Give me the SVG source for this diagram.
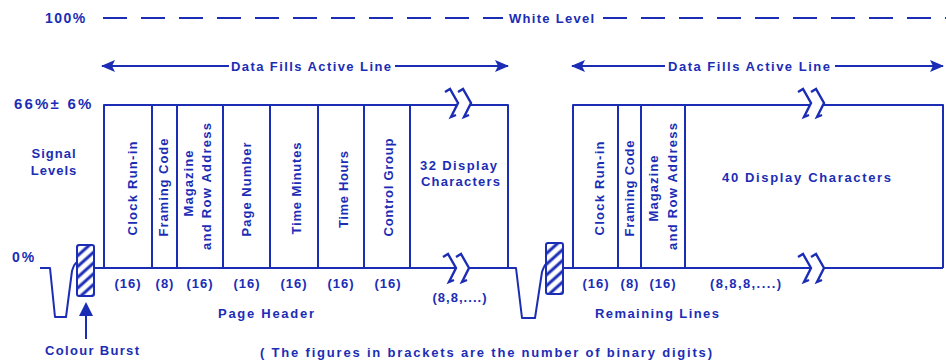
<svg xmlns="http://www.w3.org/2000/svg" width="946" height="360" viewBox="0 0 946 360">
<style>
.ln{fill:none;stroke:#1b2db5;stroke-width:2;stroke-linejoin:round}
.dash{fill:none;stroke:#1b2db5;stroke-width:2.2;stroke-dasharray:24 14}
.t{font-family:"Liberation Sans",Arial,sans-serif;font-weight:bold;font-size:13px;fill:#1b2db5;letter-spacing:1px}
.c{text-anchor:middle}
.brk{fill:none;stroke:#1b2db5;stroke-width:2.4;stroke-linejoin:miter}
</style>
<defs>
<marker id="ah" viewBox="0 0 14 12" refX="13" refY="6" markerWidth="14" markerHeight="12" markerUnits="userSpaceOnUse" orient="auto">
<path d="M0,0 L14,6 L0,12 L3,6 Z" fill="#1b2db5"/>
</marker>
<pattern id="hatch" width="8" height="8" patternUnits="userSpaceOnUse" patternTransform="rotate(48)">
<rect width="8" height="8" fill="#fff"/>
<line x1="2" y1="0" x2="2" y2="8" stroke="#1b2db5" stroke-width="3"/>
</pattern>
<path id="bk" d="M-4,3 L1,0 L9,14 L2,28 L7,26"/>
</defs>
<rect width="946" height="360" fill="#fff"/>

<!-- white level -->
<g id="white-level">
<line class="dash" x1="103" y1="18" x2="503" y2="18"/>
<line class="dash" x1="603" y1="18" x2="946" y2="18"/>
<text class="t c" x="552" y="23" textLength="86">White Level</text>
<text class="t" x="45" y="23" style="font-size:14px;letter-spacing:1.5px">100%</text>
</g>

<!-- left labels -->
<g id="levels">
<text class="t" x="14" y="109" style="font-size:15px;letter-spacing:2.2px">66%± 6%</text>
<text class="t c" x="54" y="158">Signal</text>
<text class="t c" x="54" y="175">Levels</text>
<text class="t" x="12" y="262" style="font-size:14px;letter-spacing:2px">0%</text>
</g>

<g id="connectors">
<line class="ln" x1="229" y1="66" x2="102" y2="66" marker-end="url(#ah)"/>
<line class="ln" x1="395" y1="66" x2="508" y2="66" marker-end="url(#ah)"/>
<line class="ln" x1="665" y1="66" x2="572" y2="66" marker-end="url(#ah)"/>
<line class="ln" x1="835" y1="66" x2="943" y2="66" marker-end="url(#ah)"/>
<path d="M86,302 L93,316 L79,316 Z" fill="#1b2db5"/>
<line class="ln" x1="86" y1="315" x2="86" y2="339"/>
</g>
<text class="t" x="231" y="71" textLength="161">Data Fills Active Line</text>
<text class="t" x="668" y="71" textLength="163">Data Fills Active Line</text>

<!-- waveform and colour bursts -->
<g id="sync-left">
<path class="ln" d="M40,268 L50,268 L55,317 L66,317 L72,271 Q74,264 77,262"/>
<rect x="77" y="245" width="17" height="51" rx="2" fill="url(#hatch)" stroke="#1b2db5" stroke-width="2"/>
<line class="ln" x1="94" y1="268" x2="104" y2="268"/>
</g>
<g id="sync-right">
<path class="ln" d="M508,268 L516,268 L522,318 L535,318 L542,272 Q544,266 546,264"/>
<rect x="546" y="243" width="17" height="51" rx="2" fill="url(#hatch)" stroke="#1b2db5" stroke-width="2"/>
<line class="ln" x1="563" y1="268" x2="573" y2="268"/>
</g>
<text class="t" x="45" y="355" textLength="95">Colour Burst</text>

<!-- page header line -->
<g id="page-header">
<path class="ln" d="M104,268 L104,105 L457,105 M470,105 L508,105 L508,268 M104,268 L456,268 M469,268 L508,268"/>
<use href="#bk" class="brk" x="449" y="89"/>
<use href="#bk" class="brk" x="462" y="89"/>
<use href="#bk" class="brk" x="447" y="254"/>
<use href="#bk" class="brk" x="460" y="254"/>
</g>
<g id="clock-run-in-1"><line class="ln" x1="152" y1="105" x2="152" y2="268"/>
<text class="t c" transform="translate(137,188) rotate(-90)" textLength="95">Clock Run-in</text>
<text class="t c" x="128" y="288">(16)</text></g>
<g id="framing-code-1"><line class="ln" x1="177" y1="105" x2="177" y2="268"/>
<text class="t c" transform="translate(168,187) rotate(-90)" textLength="99">Framing Code</text>
<text class="t c" x="165" y="288">(8)</text></g>
<g id="magazine-1"><line class="ln" x1="223" y1="105" x2="223" y2="268"/>
<text class="t c" transform="translate(193,183) rotate(-90)" textLength="67">Magazine</text>
<text class="t c" transform="translate(211,186) rotate(-90)" textLength="128">and Row Address</text>
<text class="t c" x="200" y="288">(16)</text></g>
<g id="page-number"><line class="ln" x1="270" y1="105" x2="270" y2="268"/>
<text class="t c" transform="translate(251,189) rotate(-90)" textLength="95">Page Number</text>
<text class="t c" x="247" y="288">(16)</text></g>
<g id="time-minutes"><line class="ln" x1="318" y1="105" x2="318" y2="268"/>
<text class="t c" transform="translate(301,188) rotate(-90)" textLength="93">Time Minutes</text>
<text class="t c" x="294" y="288">(16)</text></g>
<g id="time-hours"><line class="ln" x1="364" y1="105" x2="364" y2="268"/>
<text class="t c" transform="translate(348,189) rotate(-90)" textLength="78">Time Hours</text>
<text class="t c" x="341" y="288">(16)</text></g>
<g id="control-group"><line class="ln" x1="410" y1="105" x2="410" y2="268"/>
<text class="t c" transform="translate(393,187) rotate(-90)" textLength="99">Control Group</text>
<text class="t c" x="388" y="288">(16)</text></g>
<g id="display-32">
<text class="t c" x="459" y="170" textLength="78">32 Display</text>
<text class="t c" x="461" y="186" textLength="80">Characters</text>
<text class="t c" x="460" y="302" textLength="55">(8,8,....)</text></g>
<text class="t" x="218" y="318" textLength="97">Page Header</text>

<!-- remaining lines -->
<g id="remaining-line">
<path class="ln" d="M573,268 L573,105 L810,105 M823,105 L943,105 L943,268 M573,268 L811,268 M824,268 L943,268"/>
<use href="#bk" class="brk" x="802" y="89"/>
<use href="#bk" class="brk" x="815" y="89"/>
<use href="#bk" class="brk" x="802" y="254"/>
<use href="#bk" class="brk" x="815" y="254"/>
</g>
<g id="clock-run-in-2"><line class="ln" x1="618" y1="105" x2="618" y2="268"/>
<text class="t c" transform="translate(604,188) rotate(-90)" textLength="95">Clock Run-in</text>
<text class="t c" x="596" y="288">(16)</text></g>
<g id="framing-code-2"><line class="ln" x1="641" y1="105" x2="641" y2="268"/>
<text class="t c" transform="translate(634,188) rotate(-90)" textLength="97">Framing Code</text>
<text class="t c" x="630" y="288">(8)</text></g>
<g id="magazine-2"><line class="ln" x1="685" y1="105" x2="685" y2="268"/>
<text class="t c" transform="translate(658,188) rotate(-90)" textLength="67">Magazine</text>
<text class="t c" transform="translate(677,186) rotate(-90)" textLength="128">and Row Address</text>
<text class="t c" x="663" y="288">(16)</text></g>
<g id="display-40">
<text class="t c" x="807" y="182" textLength="170">40 Display Characters</text>
<text class="t c" x="746" y="288" textLength="72">(8,8,8,....)</text></g>
<text class="t" x="595" y="318" textLength="125">Remaining Lines</text>

<text class="t" x="260" y="357" textLength="453">( The figures in brackets are the number of binary digits)</text>
</svg>
